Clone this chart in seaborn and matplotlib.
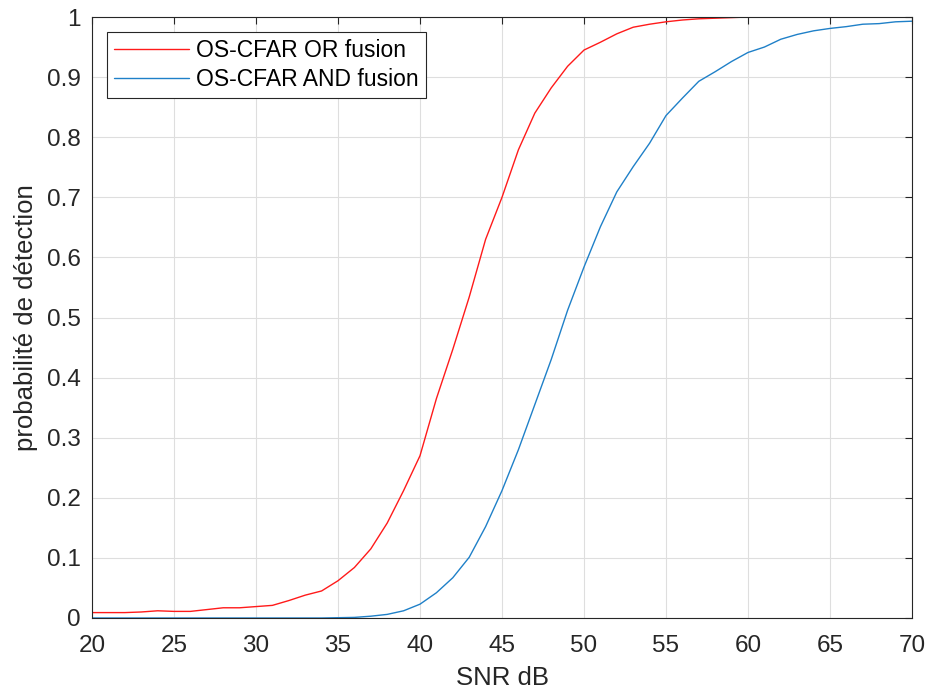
import numpy as np
import pandas as pd
import matplotlib
matplotlib.use("Agg")
import matplotlib.pyplot as plt
import seaborn as sns

snr_db = list(range(20, 71))

or_fusion = [0.009, 0.009, 0.009, 0.010, 0.012, 0.011, 0.011, 0.014, 0.017, 0.017,
             0.019, 0.021, 0.029, 0.038, 0.045, 0.062, 0.084, 0.115, 0.158, 0.212,
             0.270, 0.365, 0.447, 0.534, 0.630, 0.700, 0.779, 0.840, 0.882, 0.918,
             0.945, 0.958, 0.972, 0.983, 0.988, 0.992, 0.995, 0.997, 0.998, 0.999,
             1.000, 1.000, 1.000, 1.000, 1.000, 1.000, 1.000, 1.000, 1.000, 1.000, 1.000]

and_fusion = [0.000, 0.000, 0.000, 0.000, 0.000, 0.000, 0.000, 0.000, 0.000, 0.000,
              0.000, 0.000, 0.000, 0.000, 0.000, 0.0005, 0.001, 0.003, 0.006, 0.012,
              0.023, 0.042, 0.067, 0.101, 0.152, 0.212, 0.280, 0.355, 0.430, 0.512,
              0.584, 0.651, 0.709, 0.751, 0.790, 0.836, 0.865, 0.893, 0.909, 0.926,
              0.941, 0.950, 0.963, 0.971, 0.977, 0.981, 0.984, 0.988, 0.989, 0.992, 0.993]

series_names = ["OS-CFAR OR fusion", "OS-CFAR AND fusion"]
x_ticks = [20, 25, 30, 35, 40, 45, 50, 55, 60, 65, 70]
y_ticks = [0, 0.1, 0.2, 0.3, 0.4, 0.5, 0.6, 0.7, 0.8, 0.9, 1]
y_tick_labels = ["0", "0.1", "0.2", "0.3", "0.4", "0.5", "0.6", "0.7", "0.8", "0.9", "1"]

df = pd.DataFrame({
    "snr": snr_db * 2,
    "pd": or_fusion + and_fusion,
    "series": [series_names[0]] * len(snr_db) + [series_names[1]] * len(snr_db),
})

sns.set_style("white")
plt.rcParams['font.family'] = ['Liberation Sans', 'DejaVu Sans']

fig = plt.figure(figsize=(9.31, 6.93), dpi=100)
ax = fig.add_axes([92 / 931, 1 - 618 / 693, 820 / 931, 601 / 693])

palette = {series_names[0]: "#FF1A1A", series_names[1]: "#1F80C8"}
sns.lineplot(data=df, x="snr", y="pd", hue="series", palette=palette,
             linewidth=1.0, ax=ax, legend=True)

ax.set_xlim(20, 70)
ax.set_ylim(0, 1)
ax.set_xticks(x_ticks)
ax.set_yticks(y_ticks)
ax.set_yticklabels(y_tick_labels)
ax.grid(True, color="#dedede", linewidth=0.8)
ax.set_axisbelow(True)
ax.tick_params(direction="in", length=5, width=0.8, colors="#262626",
               labelsize=17.5, top=True, right=True, labelcolor="#262626")
ax.tick_params(axis="x", pad=12.5)
ax.tick_params(axis="y", pad=8)
for s in ax.spines.values():
    s.set_color("#262626")
    s.set_linewidth(0.8)
    s.set_visible(True)

ax.set_xlabel("SNR dB", fontsize=18.5, color="#262626", labelpad=6)
ax.set_ylabel("probabilité de détection", fontsize=18.5, color="#262626", labelpad=6.5)

leg = ax.legend(loc="upper left", bbox_to_anchor=(0.018, 0.9755), fontsize=16.5,
                frameon=True, fancybox=False, handlelength=3.3, handletextpad=0.3,
                borderpad=0.3, labelspacing=0.3, borderaxespad=0.0)
leg.get_frame().set_edgecolor("#262626")
leg.get_frame().set_linewidth(0.8)
leg.get_frame().set_alpha(1.0)
for t in leg.get_texts():
    t.set_color("black")

fig.savefig("out.png", dpi=100, facecolor="white")
